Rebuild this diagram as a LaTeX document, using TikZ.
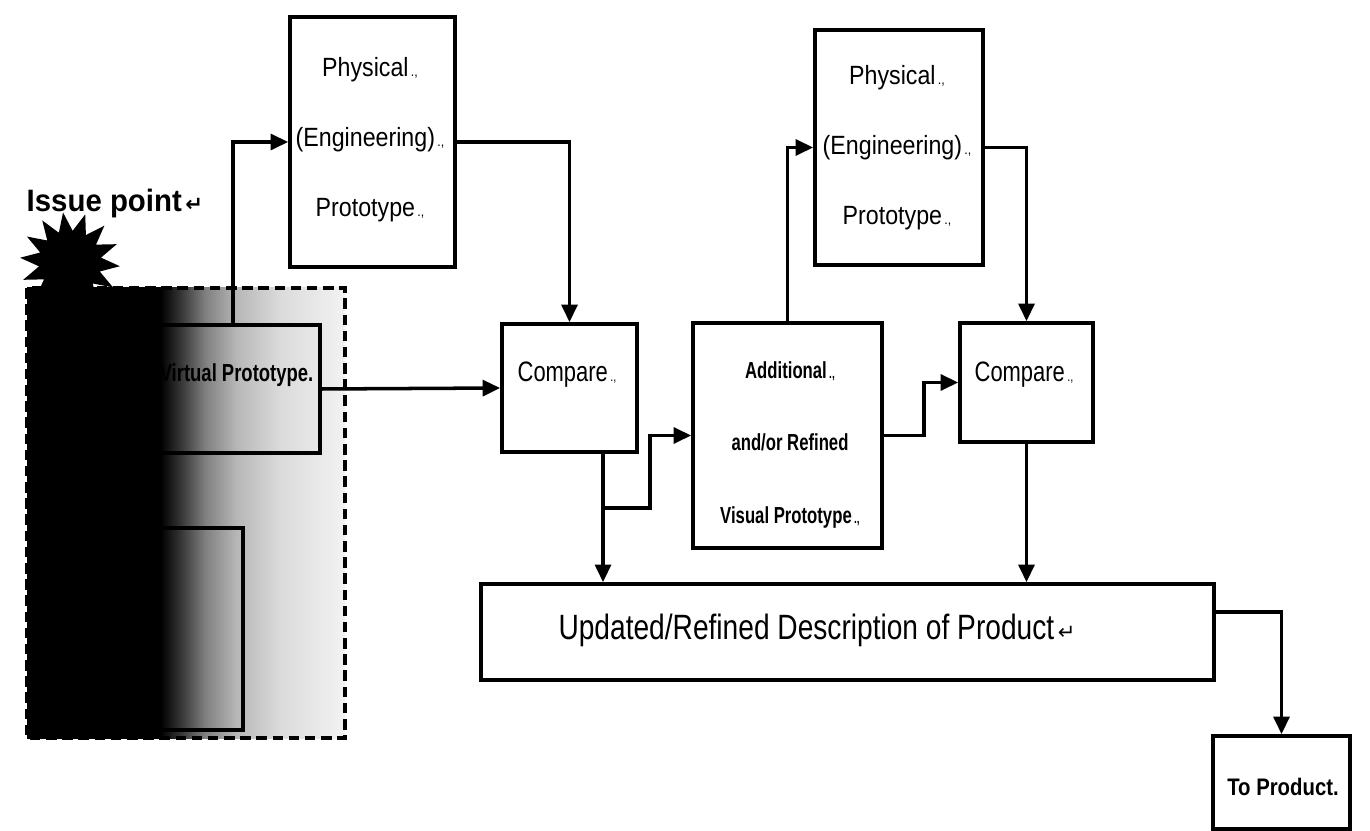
\documentclass[tikz,border=0pt]{standalone}
\usepackage{fontspec}
\setmainfont{Liberation Sans}
\newfontfamily\fPhys[FakeStretch=0.88]{Liberation Sans}
\newfontfamily\fCmp[FakeStretch=0.78]{Liberation Sans}
\newfontfamily\fUpd[FakeStretch=0.8]{Liberation Sans}
\newfontfamily\fVirt[FakeStretch=0.75]{Liberation Sans}
\newfontfamily\fAdd[FakeStretch=0.72]{Liberation Sans}
\newfontfamily\fTo[FakeStretch=0.85]{Liberation Sans}
\newfontfamily\fIssue[FakeStretch=0.95]{Liberation Sans}
\newfontfamily\fSym{DejaVu Sans}
\usetikzlibrary{arrows.meta,shapes.geometric,calc}

% grey fade of the issue area: black on the left, almost white on the right
\pgfdeclarehorizontalshading{issuefade}{100bp}{color(0bp)=(black); color(46bp)=(black); color(49bp)=(black!80); color(53bp)=(black!50); color(58bp)=(black!28); color(65bp)=(black!14); color(75bp)=(black!5); color(100bp)=(black!5)}

% small paragraph marks after the labels
\newcommand\pmark{{\fontsize{4}{4}\selectfont\,.,}}
\newcommand\retmark{{\fSym\fontsize{6}{6}\selectfont\,↵}}

\begin{document}
\begin{tikzpicture}[x=0.01cm,y=-0.01cm,
  box/.style={draw, line width=1pt, inner sep=0pt},
  conn/.style={line width=1pt, -{Triangle[length=5pt,width=4.5pt]}},
  txt/.style={inner sep=0pt, align=center}]
\useasboundingbox (0,0) rectangle (1370,831);

% issue area
\shade[shading=issuefade] (27,288) rectangle (345,738);
\draw[line width=1pt, dash pattern=on 3pt off 1.6pt] (27,288) rectangle (345,738);
\node[star, star points=14, star point ratio=1.6, fill=black, minimum size=1.0cm, inner sep=0pt, rotate=8] (burst) at (70,262) {};
\node[txt, anchor=west, font=\fIssue\bfseries\fontsize{8.8}{10}\selectfont] (issue) at (26,204) {Issue point\retmark};

% boxes
\node[box, minimum width=1.65cm, minimum height=2.50cm] (phys1) at (372.5,142) {};
\node[box, minimum width=1.68cm, minimum height=2.35cm] (phys2) at (899,147.5) {};
\node[box, minimum width=1.74cm, minimum height=1.28cm] (virt) at (233,389) {};
\node[box, minimum width=1.43cm, minimum height=2.02cm] (desc) at (171.5,629) {};
\node[box, minimum width=1.35cm, minimum height=1.28cm] (cmp1) at (569.5,388) {};
\node[box, minimum width=1.33cm, minimum height=1.19cm] (cmp2) at (1026.5,382.5) {};
\node[box, minimum width=1.89cm, minimum height=2.25cm] (add) at (787.5,435.5) {};
\node[box, minimum width=7.33cm, minimum height=0.96cm] (upd) at (847.5,632) {};
\node[box, minimum width=1.37cm, minimum height=0.93cm] (prod) at (1281.5,782.5) {};

% labels
\node[txt, font=\fPhys\fontsize{7.5}{19.9}\selectfont] (phys1t) at (370,140) {Physical\pmark\\(Engineering)\pmark\\Prototype\pmark};
\node[txt, font=\fPhys\fontsize{7.5}{19.9}\selectfont] (phys2t) at (897,148) {Physical\pmark\\(Engineering)\pmark\\Prototype\pmark};
\node[txt, anchor=east, font=\fVirt\bfseries\fontsize{7}{8}\selectfont] (virtt) at (314,375) {Virtual Prototype.};
\node[txt, font=\fCmp\fontsize{8}{9}\selectfont] (cmp1t) at (567,375) {Compare\pmark};
\node[txt, font=\fCmp\fontsize{8}{9}\selectfont] (cmp2t) at (1024,375) {Compare\pmark};
\node[txt, font=\fAdd\bfseries\fontsize{6.6}{20.5}\selectfont] (addt) at (790,445) {Additional\pmark\\and/or Refined\\Visual Prototype\pmark};
\node[txt, font=\fUpd\fontsize{10}{11}\selectfont] (updt) at (817,630) {Updated/Refined Description of Product\retmark};
\node[txt, font=\fTo\bfseries\fontsize{6.8}{8}\selectfont] (prodt) at (1283,787) {To Product.};

% connectors
\draw[conn] (virt.north) |- (phys1.west);
\draw[conn] (phys1.east) -| (cmp1.north);
\draw[conn] (virt.east) -- (cmp1.west);
\draw[conn] ([xshift=0.335cm]cmp1.south) -- ([xshift=0.335cm]cmp1.south |- upd.north);
\coordinate (br) at ([xshift=0.335cm,yshift=-0.54cm]cmp1.south);
\draw[conn] (br) -- ++(47,0) |- (add.west);
\draw[conn] (add.north) |- (phys2.west);
\draw[conn] (phys2.east) -| (cmp2.north);
\draw[conn] (add.east) -- ++(40,0) |- (cmp2.west);
\draw[conn] (cmp2.south) -- (cmp2.south |- upd.north);
\draw[conn] ([yshift=0.2cm]upd.east) -| (prod.north);
\end{tikzpicture}
\end{document}
